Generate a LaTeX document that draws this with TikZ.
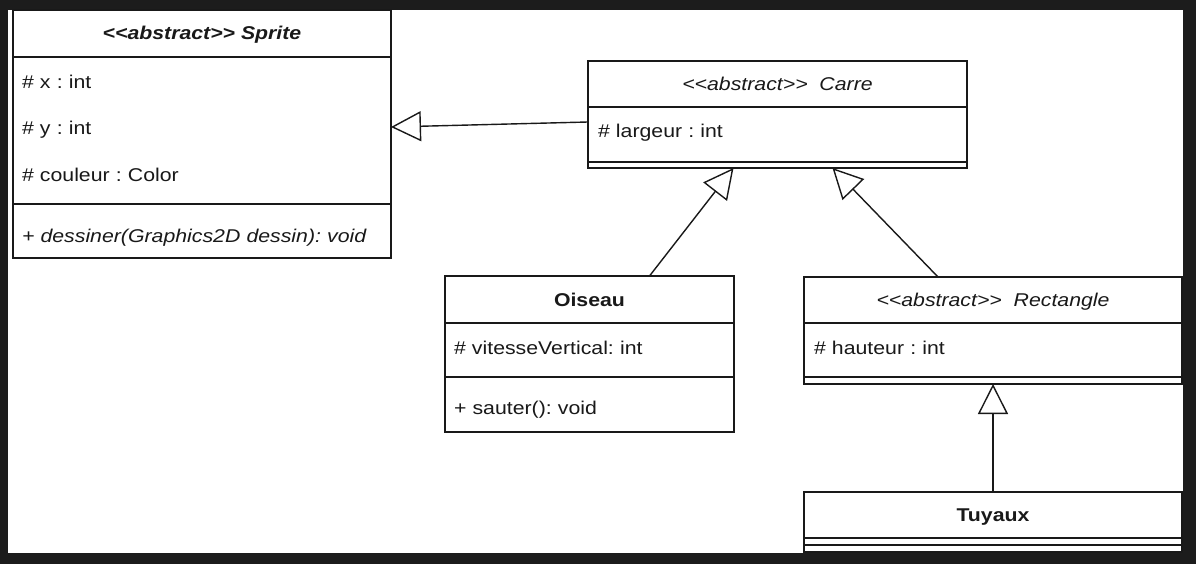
\documentclass[tikz,border=0pt]{standalone}
\usepackage{fontspec}
\setmainfont{Liberation Sans}[FakeStretch=1.15]
\usepackage{tikz}
\usetikzlibrary{arrows.meta,positioning}
\definecolor{screen}{RGB}{28,28,28}
\definecolor{ink}{RGB}{25,25,25}
\frenchspacing
\tikzset{
	compart/.style={draw=ink, line width=1.4pt, fill=white, inner sep=0pt, outer sep=0pt, anchor=north west},
	head/.style={font=\fontsize{18.5}{20}\selectfont, text=ink, text height=13pt, text depth=0pt},
	row/.style={text width=365pt, align=left, minimum height=46.5pt, inner sep=0pt, outer sep=0pt, anchor=north west,
		text height=13pt, text depth=0pt, font=\fontsize{18.5}{20}\selectfont, text=ink},
	inherit/.style={draw=ink, line width=1.4pt, -{Triangle[open, length=30pt, width=30pt]}}
}
\newcommand{\stereo}{<\kern0pt<abstract>\kern0pt>}
\begin{document}
\begin{tikzpicture}[x=1pt, y=-1pt]
			\useasboundingbox (0, 0) rectangle (1196, 564);
			\fill[screen] (0, 0) rectangle (1196, 564);
			\fill[white] (8, 10) rectangle (1183, 553);
			% Sprite
			\node[compart, head, minimum width=378pt, minimum height=47pt] (sprite-head) at (13, 10) {\bfseries\itshape \stereo{} Sprite};
			\node[compart, minimum width=378pt, minimum height=147pt, below=0pt of sprite-head] (sprite-attr) {};
			\node[compart, minimum width=378pt, minimum height=54pt, below=0pt of sprite-attr] (sprite-meth) {};
			\node[row] (sprite-x) at ([xshift=9pt, yshift=-1.5pt]sprite-attr.north west) {\# x : int};
			\node[row, below=0pt of sprite-x] (sprite-y) {\# y : int};
			\node[row, below=0pt of sprite-y] (sprite-couleur) {\# couleur : Color};
			\node[row] (sprite-dessiner) at ([xshift=9pt, yshift=-9pt]sprite-meth.north west) {\itshape + dessiner(Graphics2D dessin): void};
			% Carre
			\node[compart, head, minimum width=379pt, minimum height=46pt] (carre-head) at (588, 61) {\itshape \stereo{}\ \ Carre};
			\node[compart, minimum width=379pt, minimum height=55pt, below=0pt of carre-head] (carre-attr) {};
			\node[compart, minimum width=379pt, minimum height=6pt, below=0pt of carre-attr] (carre-meth) {};
			\node[row] (carre-largeur) at ([xshift=10pt, yshift=-1pt]carre-attr.north west) {\# largeur : int};
			% Oiseau
			\node[compart, head, minimum width=289pt, minimum height=47pt] (oiseau-head) at (445, 276) {\bfseries Oiseau};
			\node[compart, minimum width=289pt, minimum height=54pt, below=0pt of oiseau-head] (oiseau-attr) {};
			\node[compart, minimum width=289pt, minimum height=55pt, below=0pt of oiseau-attr] (oiseau-meth) {};
			\node[row] (oiseau-vitesse) at ([xshift=9pt, yshift=-2pt]oiseau-attr.north west) {\# vitesseVertical: int};
			\node[row] (oiseau-sauter) at ([xshift=9pt, yshift=-8pt]oiseau-meth.north west) {+ sauter(): void};
			% Rectangle
			\node[compart, head, minimum width=378pt, minimum height=46pt] (rect-head) at (804, 277) {\itshape \stereo{}\ \ Rectangle};
			\node[compart, minimum width=378pt, minimum height=54pt, below=0pt of rect-head] (rect-attr) {};
			\node[compart, minimum width=378pt, minimum height=7pt, below=0pt of rect-attr] (rect-meth) {};
			\node[row] (rect-hauteur) at ([xshift=10pt, yshift=-2pt]rect-attr.north west) {\# hauteur : int};
			% Tuyaux
			\node[compart, head, minimum width=378pt, minimum height=46pt] (tuyaux-head) at (804, 492) {\bfseries Tuyaux};
			\node[compart, minimum width=378pt, minimum height=7pt, below=0pt of tuyaux-head] (tuyaux-attr) {};
			\node[compart, minimum width=378pt, minimum height=7pt, below=0pt of tuyaux-attr] (tuyaux-meth) {};
			% inheritance
			\draw[inherit] ([yshift=-15pt]carre-attr.north west) -- ([yshift=-70pt]sprite-attr.north east);
			\draw[inherit] ([xshift=60pt]oiseau-head.north) -- ([xshift=-44pt]carre-meth.south);
			\draw[inherit] ([xshift=-55pt]rect-head.north) -- ([xshift=55pt]carre-meth.south);
			\draw[inherit] (tuyaux-head.north) -- (rect-meth.south);
		\end{tikzpicture}
\end{document}
